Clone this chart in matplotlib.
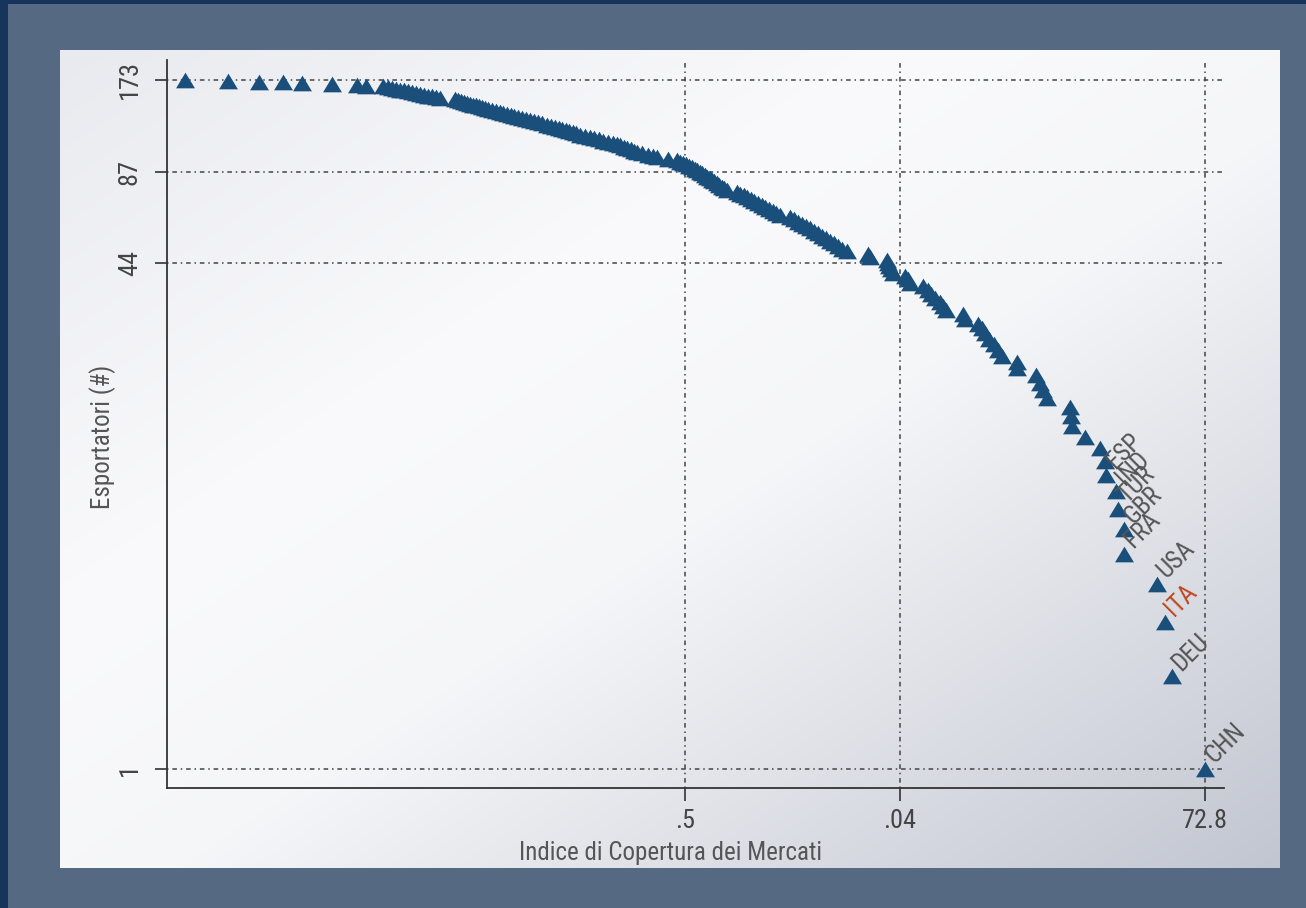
import matplotlib
matplotlib.use("Agg")
import matplotlib.pyplot as plt
from matplotlib import font_manager
from matplotlib.patches import Rectangle
from matplotlib.path import Path
from matplotlib.transforms import ScaledTranslation
import numpy as np

# number of exporters rank, from 173 (left) down to 1 (right)
ranks = list(range(173, 0, -1))

# market coverage position, one value per rank above
coverage = [
    185, 228, 259, 283, 302, 332, 357, 366,
    383, 388, 392, 396, 400, 404, 408, 412, 416, 420, 424, 428, 432, 436, 440,
    455, 458, 461, 464, 467, 470, 473, 476, 479, 482, 485, 488, 492, 496, 500, 503, 507, 511,
    514, 518, 522, 526, 530, 534, 538, 542, 547,
    551, 555, 559, 562, 566, 569, 573, 576, 580,
    585, 590, 594, 599, 603, 608, 613,
    617, 620, 624, 627, 631, 634, 637,
    642, 648, 653, 657, 668, 677,
    680, 683, 686, 689, 692, 695, 697, 700, 702, 705, 707, 710, 712, 714, 717, 719, 722, 724, 727,
    737, 740, 744, 747, 751, 754, 758, 762, 765, 769, 773, 776, 780,
    790, 794, 798, 802, 806, 810, 814, 818, 822, 826, 830, 834, 838, 842, 847,
    868, 870, 887, 888, 889, 891, 893,
    905, 908, 910, 923, 928, 931, 935, 940, 943, 946,
    963, 965, 978, 982, 985, 989, 994, 998, 1002, 1017, 1017, 1036, 1040, 1043, 1047,
    1070, 1071, 1072, 1085, 1100, 1105, 1106, 1116, 1118, 1124, 1124, 1157, 1165, 1172, 1205,
]

# labelled countries, ranks 1..9
label_codes = ["CHN", "DEU", "ITA", "USA", "FRA", "GBR", "TUR", "IND", "ESP"]
highlight = "ITA"

y_ticks = [1, 44, 87, 173]
x_ticks = [685, 900, 1205]
x_ticklabels = [".5", ".04", "72.8"]

MARKER_COLOR = "#1a4f7c"
TEXT_COLOR = "#555555"

names = {f.name for f in font_manager.fontManager.ttflist}
if "Roboto Condensed" in names:
    family, k = "Roboto Condensed", 1.0
else:
    family, k = "Roboto", 0.87
plt.rcParams["font.family"] = [family, "DejaVu Sans"]
fs_tick, fs_title, fs_lab = 19 * k, 18 * k, 18 * k

W, H = 1306, 908
fig = plt.figure(figsize=(W / 100, H / 100), dpi=100)
fig.patch.set_facecolor("#556983")

# dark frame round the image
for rect in [(0, 0, 8 / W, 1), (0, 1 - 4 / H, 1, 4 / H)]:
    fig.patches.append(Rectangle(rect[:2], rect[2], rect[3], transform=fig.transFigure,
                                 facecolor="#17345c", edgecolor="none", zorder=0))

# graph region with soft gradient
bg = fig.add_axes([60 / W, 1 - 868 / H, 1220 / W, 818 / H])
bg.set_axis_off()
u, v = np.meshgrid(np.linspace(0, 1, 400), np.linspace(0, 1, 300))
t = 0.5 * u + 0.5 * v
stops = [0.0, 0.35, 0.55, 1.0]
cols = np.array([[233, 234, 239], [250, 250, 252], [245, 246, 248], [194, 198, 209]]) / 255
img = np.stack([np.interp(t, stops, cols[:, c]) for c in range(3)], axis=-1)
bg.imshow(img, aspect="auto", extent=(0, 1, 0, 1), interpolation="bilinear")

ax = fig.add_axes([167 / W, 1 - 788 / H, (1224 - 167) / W, (788 - 60) / H])
ax.set_facecolor("none")
ax.set_yscale("log")
ax.set_xlim(167, 1224)
ax.set_ylim(0.868, 200.9)

tri = Path([(0, 0.83), (-1, -0.83), (1, -0.83), (0, 0.83)],
           [Path.MOVETO, Path.LINETO, Path.LINETO, Path.CLOSEPOLY])
ax.scatter(coverage, ranks, marker=tri, s=185, color=MARKER_COLOR, linewidths=0, zorder=3)

for i, code in enumerate(label_codes):
    r = i + 1
    x = coverage[ranks.index(r)]
    ax.annotate(code, (x, r), xytext=(6.5, 3.5), textcoords="offset points",
                rotation=45, rotation_mode="anchor", ha="left", va="baseline",
                fontsize=fs_lab, color="#c0461e" if code == highlight else TEXT_COLOR, zorder=4)

ax.set_yticks(y_ticks)
ax.set_yticklabels([str(v) for v in y_ticks], rotation=90, va="center")
ax.yaxis.set_minor_locator(matplotlib.ticker.NullLocator())
ax.set_xticks(x_ticks)
ax.set_xticklabels(x_ticklabels)
shift = ScaledTranslation(0, -4 / 100, fig.dpi_scale_trans)
for lab in ax.get_yticklabels():
    lab.set_transform(lab.get_transform() + shift)

ax.grid(True, color="#444444", linestyle=(0, (1, 2.5, 3, 2.5)), linewidth=1.1, zorder=1)
ax.set_axisbelow(True)

for s in ["top", "right"]:
    ax.spines[s].set_visible(False)
for s in ["left", "bottom"]:
    ax.spines[s].set_color("#333333")
    ax.spines[s].set_linewidth(1.3)

ax.tick_params(axis="both", direction="out", length=9, width=1.2, color="#333333",
               labelcolor="#444444", labelsize=fs_tick)
ax.tick_params(axis="y", pad=9)
ax.tick_params(axis="x", pad=6)

fig.text(671 / W, 1 - 853 / H, "Indice di Copertura dei Mercati", ha="center", va="center",
         fontsize=fs_title, color=TEXT_COLOR)
fig.text(103 / W, 1 - 437 / H, "Esportatori (#)", ha="center", va="center", rotation=90,
         fontsize=fs_title, color=TEXT_COLOR)

fig.savefig("out.png", dpi=100, facecolor=fig.get_facecolor())
